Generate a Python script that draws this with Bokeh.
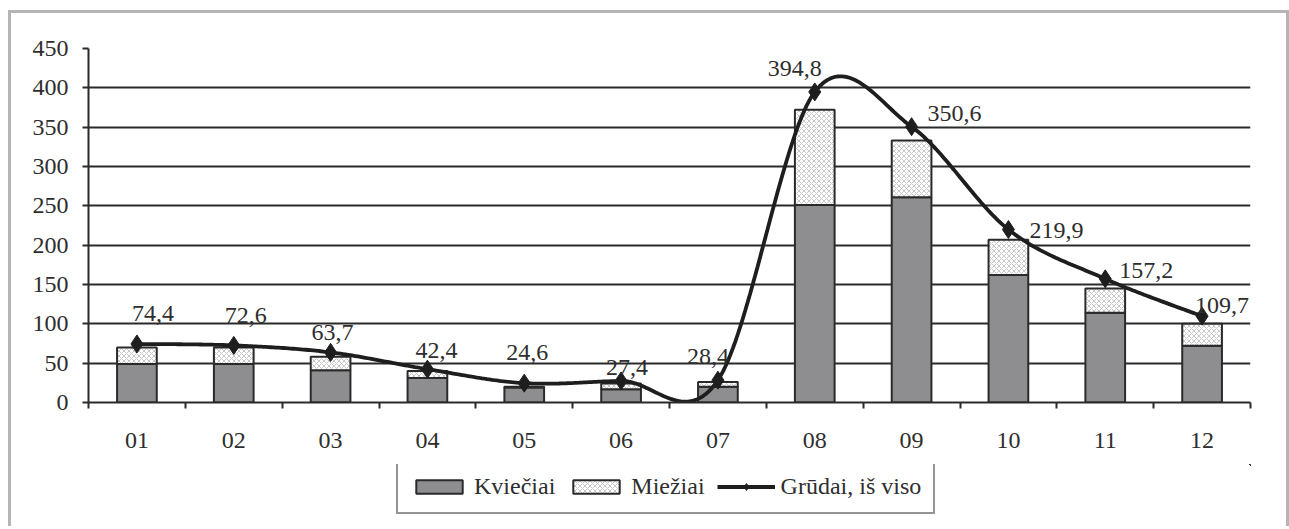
from bokeh.plotting import figure
from bokeh.models import (Legend, LegendItem, FixedTicker, ColumnDataSource, Range1d)
from bokeh.layouts import column
from bokeh.core.properties import value
from bokeh.embed import file_html
from bokeh.resources import INLINE
import numpy as np

# ---- data ----
months = ["01", "02", "03", "04", "05", "06", "07", "08", "09", "10", "11", "12"]
kvieciai = [49, 49, 41, 31, 19, 17, 20, 251, 261, 162, 114, 72]
mieziai = [21, 21, 17, 9, 1, 7, 6, 121, 72, 45, 31, 28]
grudai = [74.4, 72.6, 63.7, 42.4, 24.6, 27.4, 28.4, 394.8, 350.6, 219.9, 157.2, 109.7]
grudai_labels = ["74,4", "72,6", "63,7", "42,4", "24,6", "27,4", "28,4",
                 "394,8", "350,6", "219,9", "157,2", "109,7"]
y_ticks = [0, 50, 100, 150, 200, 250, 300, 350, 400, 450]

# label offsets (screen px, styling only)
label_dx = [16, 12, 2, 9, 3, 6, -10, -20, 43, 48, 41, 20]
label_dy = [-30, -30, -20, -19, -31, -13, -24, -23, -13, 1, -8, -11]

FONT = "Liberation Serif"
FS = "24px"
TXT = "#2e2e2e"
DARK = "#2a2a2a"
GRAY = "#8e8e91"
HATCH = dict(hatch_pattern="diagonal_cross", hatch_color="#b0b0b0", hatch_scale=5, hatch_weight=0.7)

xs = list(range(1, len(months) + 1))
tops_k = kvieciai
tops_m = [a + b for a, b in zip(kvieciai, mieziai)]

p = figure(width=1275, height=451, output_backend="svg", toolbar_location=None,
           x_range=Range1d(0.5, 12.5), y_range=Range1d(0, 450),
           min_border_left=77, min_border_right=36, min_border_top=35, min_border_bottom=62)
p.outline_line_color = None
p.background_fill_color = "white"
p.border_fill_color = "white"

# grid
p.xgrid.grid_line_color = None
p.ygrid.ticker = FixedTicker(ticks=y_ticks)
p.ygrid.grid_line_color = DARK
p.ygrid.grid_line_width = 2

# bars
src = ColumnDataSource(dict(x=xs, k=tops_k, m=tops_m))
p.vbar(x="x", width=0.41, bottom=0, top="k", source=src,
       fill_color=GRAY, line_color=DARK, line_width=2)
p.vbar(x="x", width=0.41, bottom="k", top="m", source=src,
       fill_color="white", line_color=DARK, line_width=2, **HATCH)

# smoothed total line (Bezier smoothing through the data points)
def smooth(xv, yv, n=40):
    P = np.column_stack([xv, yv]).astype(float)
    out = []
    N = len(P)
    for i in range(N - 1):
        p0 = P[i - 1] if i > 0 else P[i]
        p1 = P[i]
        p2 = P[i + 1]
        p3 = P[i + 2] if i + 2 < N else P[i + 1]
        c1 = p1 + (p2 - p0) / 6.0
        c2 = p2 - (p3 - p1) / 6.0
        t = np.linspace(0, 1, n)[:, None]
        seg = ((1 - t) ** 3) * p1 + 3 * t * (1 - t) ** 2 * c1 + 3 * t ** 2 * (1 - t) * c2 + t ** 3 * p2
        out.append(seg if i == 0 else seg[1:])
    arr = np.vstack(out)
    return arr[:, 0], arr[:, 1]

sx, sy = smooth(xs, grudai)
p.line(sx, sy, line_color="#1e1e1e", line_width=3.8)
p.scatter(xs, grudai, marker="diamond", size=18, fill_color="#1e1e1e", line_color="#1e1e1e")

# data labels
lsrc = ColumnDataSource(dict(x=xs, y=grudai, t=grudai_labels, dx=label_dx, dy=label_dy))
p.text(x="x", y="y", text="t", x_offset="dx", y_offset="dy", source=lsrc,
       text_font=value(FONT), text_font_size=FS, text_color=TXT,
       text_align="center", text_baseline="middle")

# axes
p.yaxis.ticker = FixedTicker(ticks=y_ticks)
p.yaxis.axis_line_color = DARK
p.yaxis.axis_line_width = 2
p.yaxis.major_tick_line_color = DARK
p.yaxis.major_tick_line_width = 2
p.yaxis.major_tick_out = 6
p.yaxis.major_tick_in = 0
p.yaxis.minor_tick_line_color = None
p.yaxis.major_label_standoff = 14
p.yaxis.major_label_text_font = FONT
p.yaxis.major_label_text_font_size = FS
p.yaxis.major_label_text_color = TXT

p.xaxis.ticker = FixedTicker(ticks=xs, minor_ticks=[i + 0.5 for i in range(0, 13)])
p.xaxis.major_label_overrides = {i: m for i, m in zip(xs, months)}
p.xaxis.axis_line_color = DARK
p.xaxis.axis_line_width = 2
p.xaxis.major_tick_line_color = None
p.xaxis.major_tick_out = 6
p.xaxis.minor_tick_line_color = DARK
p.xaxis.minor_tick_line_width = 2
p.xaxis.minor_tick_out = 6
p.xaxis.minor_tick_in = 0
p.xaxis.major_label_standoff = 24
p.xaxis.major_label_text_font = FONT
p.xaxis.major_label_text_font_size = FS
p.xaxis.major_label_text_color = TXT

# legend strip: a small figure holding the legend key; its renderers reuse the
# same data but its ranges keep them out of view, so only the key shows.
q = figure(width=1275, height=62, output_backend="svg", toolbar_location=None,
           x_range=Range1d(-20, -19), y_range=Range1d(-20, -19),
           x_axis_location=None, y_axis_location=None,
           min_border_left=0, min_border_right=0, min_border_top=0, min_border_bottom=0)
q.outline_line_color = None
q.grid.grid_line_color = None
lk = q.vbar(x="x", width=0.41, bottom=0, top="k", source=src,
            fill_color=GRAY, line_color=DARK, line_width=2)
lm = q.vbar(x="x", width=0.41, bottom="k", top="m", source=src,
            fill_color="white", line_color=DARK, line_width=2, **HATCH)
ll = q.line(x="x", y="y", source=lsrc, line_color="#1e1e1e", line_width=3.8)
ls = q.scatter(x="x", y="y", source=lsrc, marker="diamond", size=18,
               fill_color="#1e1e1e", line_color="#1e1e1e")

legend = Legend(items=[LegendItem(label="Kviečiai", renderers=[lk]),
                       LegendItem(label="Miežiai", renderers=[lm]),
                       LegendItem(label="Grūdai, iš viso", renderers=[ll, ls])],
                orientation="horizontal", location=(308, 12))
legend.label_text_font = "'Liberation Serif', 'Times New Roman', serif"
legend.label_text_font_size = FS
legend.label_text_color = TXT
legend.label_height = 24
legend.glyph_width = 58
legend.glyph_height = 17
legend.label_standoff = 6
legend.spacing = 12
legend.padding = 12
legend.margin = 0
legend.border_line_color = DARK
legend.border_line_width = 2
legend.background_fill_alpha = 1
q.add_layout(legend, "center")

layout = column(p, q, spacing=0)
layout.styles = {"margin-left": "8px", "margin-top": "10px",
                 "border-top": "3px solid #b5b5b5", "border-left": "3px solid #b5b5b5",
                 "border-right": "3px solid #b5b5b5"}

open("out.html", "w").write(file_html(layout, INLINE))
